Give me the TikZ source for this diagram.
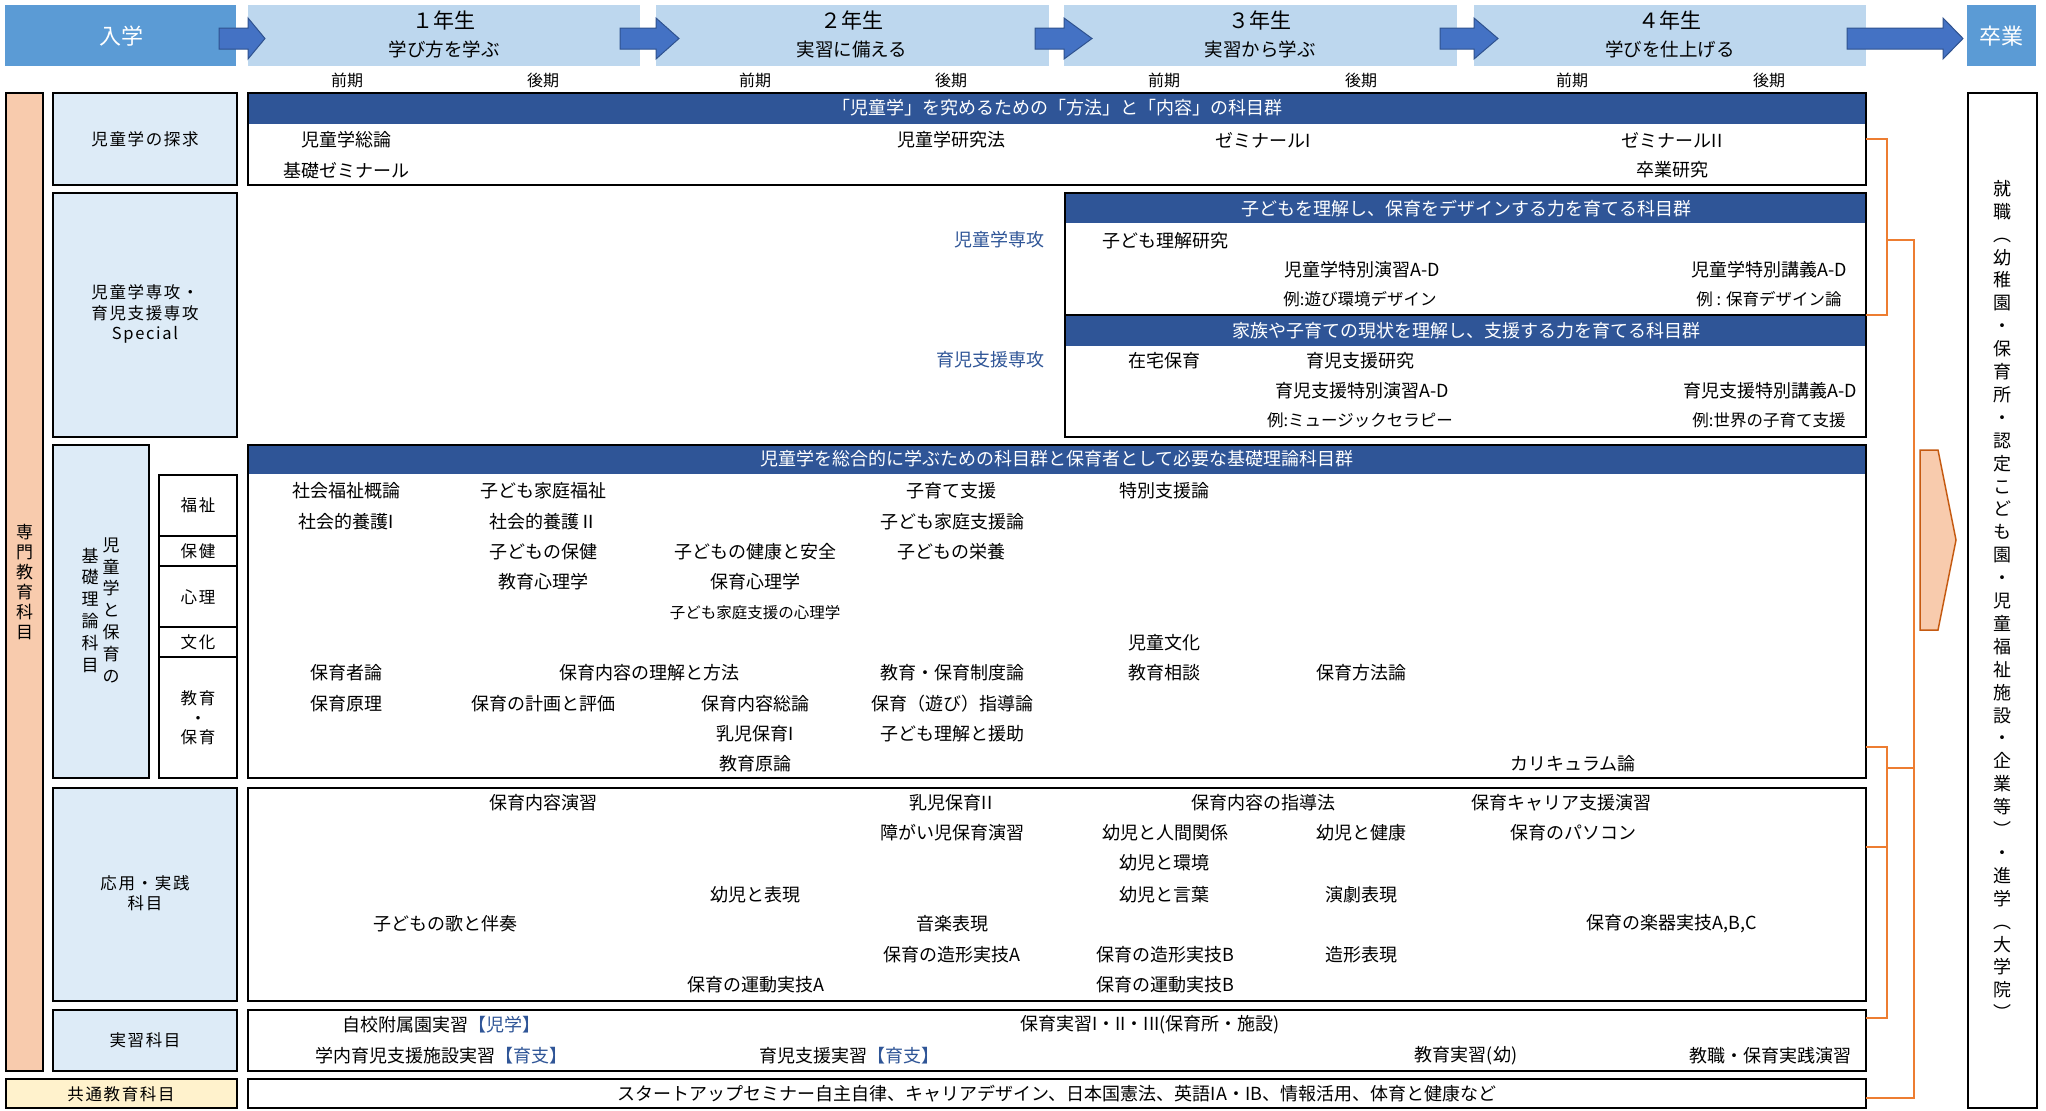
\documentclass[tikz,border=0pt]{standalone}
\usepackage{fontspec}
\setmainfont{Noto Sans CJK JP}
\newfontfamily\lsfont{Noto Sans CJK JP}[LetterSpace=10]
\definecolor{hdr}{HTML}{2F5597}
\definecolor{yearbg}{HTML}{BDD7EE}
\definecolor{midblue}{HTML}{5B9BD5}
\definecolor{arrowblue}{HTML}{4472C4}
\definecolor{arrowedge}{HTML}{2F528F}
\definecolor{leftbg}{HTML}{DDEBF7}
\definecolor{peach}{HTML}{F8CBAD}
\definecolor{peachedge}{HTML}{C55A11}
\definecolor{cream}{HTML}{FFF2CC}
\definecolor{orangeline}{HTML}{ED7D31}
\definecolor{bluetext}{HTML}{2F5597}
\newcommand\mkbox[6]{\node[#6, anchor=north west, minimum width={(#4-#2)*1bp}, minimum height={(#5-#3)*1bp}] (#1) at (#2,#3) {};}
\newcommand\barrow[3]{\filldraw[blockarrow] (#1,28) -- (#2,28) -- (#2,18) -- (#3,38.5) -- (#2,59) -- (#2,49) -- (#1,49) -- cycle;}
\newcommand\T[4]{\node[lbl] (#1) at (#2,#3) {#4};}
\newcommand\Ts[4]{\node[sml] (#1) at (#2,#3) {#4};}
\tikzset{
  lbl/.style={font=\fontsize{18bp}{21bp}\selectfont},
  sml/.style={font=\fontsize{16.5bp}{20bp}\selectfont},
  hdrtxt/.style={font=\fontsize{18bp}{21bp}\selectfont, text=white},
  cbox/.style={draw=black, line width=2.6bp},
  lbox/.style={draw=black, line width=2.4bp, fill=leftbg},
  sbox/.style={draw=black, line width=2bp, fill=white},
  ybox/.style={fill=yearbg},
  ebox/.style={fill=midblue},
  oline/.style={draw=orangeline, line width=2.6bp},
  blockarrow/.style={fill=arrowblue, draw=arrowedge, line width=1bp},
  leftlbl/.style={font=\lsfont\fontsize{16.5bp}{20bp}\selectfont, align=center},
  yeartitle/.style={font=\fontsize{21bp}{24bp}\selectfont},
  yearsub/.style={font=\fontsize{18.5bp}{22bp}\selectfont},
  term/.style={font=\fontsize{16bp}{19bp}\selectfont},
}
\begin{document}
\begin{tikzpicture}[x=1bp,y=-1bp, every node/.style={inner sep=0pt,outer sep=0pt}]
\useasboundingbox[fill=white] (0,0) rectangle (2046,1110);

% ---------- top row ----------
\mkbox{ent}{5}{5}{236}{66}{ebox}
\mkbox{yr1}{248}{5}{640}{66}{ybox}
\mkbox{yr2}{656}{5}{1049}{66}{ybox}
\mkbox{yr3}{1064}{5}{1457}{66}{ybox}
\mkbox{yr4}{1474}{5}{1866}{66}{ybox}
\mkbox{grad}{1967}{5}{2036}{66}{ebox}
\barrow{219}{248}{265}
\barrow{620}{656}{679}
\barrow{1035}{1064}{1092}
\barrow{1440}{1474}{1498}
\barrow{1847}{1943}{1963}
\node[font=\fontsize{22bp}{24bp}\selectfont, text=white] (entT) at (121,36) {入学};
\node[font=\fontsize{22bp}{24bp}\selectfont, text=white] (gradT) at (2001,36) {卒業};
\node[yeartitle] (y1a) at (444,20) {１年生};
\node[yearsub] (y1b) at (444,49) {学び方を学ぶ};
\node[yeartitle] (y2a) at (852,20) {２年生};
\node[yearsub] (y2b) at (852,49) {実習に備える};
\node[yeartitle] (y3a) at (1260,20) {３年生};
\node[yearsub] (y3b) at (1260,49) {実習から学ぶ};
\node[yeartitle] (y4a) at (1670,20) {４年生};
\node[yearsub] (y4b) at (1670,49) {学びを仕上げる};
\node[term] (t1) at (347,80) {前期};
\node[term] (t2) at (543,80) {後期};
\node[term] (t3) at (755,80) {前期};
\node[term] (t4) at (951,80) {後期};
\node[term] (t5) at (1164,80) {前期};
\node[term] (t6) at (1361,80) {後期};
\node[term] (t7) at (1572,80) {前期};
\node[term] (t8) at (1769,80) {後期};

% ---------- left column ----------
\mkbox{senmon}{6}{93}{43}{1071}{lbox, fill=peach, line width=2bp}
\node[font=\fontsize{17bp}{20bp}\selectfont, align=center] (senmonT) at (24.5,582) {専\\門\\教\\育\\科\\目};
\mkbox{L1}{53}{93}{237}{185}{lbox}
\node[leftlbl] (L1T) at (145,139) {児童学の探求};
\mkbox{L2}{53}{193}{237}{437}{lbox}
\node[leftlbl, font=\lsfont\fontsize{16.5bp}{20.5bp}\selectfont] (L2T) at (145,314) {児童学専攻・\\育児支援専攻\\Special};
\mkbox{L3}{53}{445}{149}{778}{lbox}
\node[font=\fontsize{17bp}{21.8bp}\selectfont, align=center] (L3a) at (111,610) {児\\童\\学\\と\\保\\育\\の};
\node[font=\fontsize{17bp}{21.8bp}\selectfont, align=center] (L3b) at (90,610) {基\\礎\\理\\論\\科\\目};
\mkbox{S1}{159}{475}{237}{536}{sbox}
\mkbox{S2}{159}{536}{237}{566}{sbox}
\mkbox{S3}{159}{566}{237}{627}{sbox}
\mkbox{S4}{159}{627}{237}{657}{sbox}
\mkbox{S5}{159}{657}{237}{778}{sbox}
\node[leftlbl] (S1T) at (198,505) {福祉};
\node[leftlbl] (S2T) at (198,551) {保健};
\node[leftlbl] (S3T) at (198,597) {心理};
\node[leftlbl] (S4T) at (198,642) {文化};
\node[leftlbl, font=\lsfont\fontsize{16.5bp}{19.5bp}\selectfont] (S5T) at (198,718) {教育\\・\\保育};
\mkbox{L4}{53}{788}{237}{1001}{lbox}
\node[leftlbl] (L4T) at (145,893) {応用・実践\\科目};
\mkbox{L5}{53}{1010}{237}{1071}{lbox}
\node[leftlbl] (L5T) at (145,1040) {実習科目};
\mkbox{L6}{6}{1079}{237}{1108}{lbox, fill=cream}
\node[leftlbl] (L6T) at (121,1094) {共通教育科目};

% ---------- right column ----------
\mkbox{R}{1968}{93}{2037}{1108}{draw=black, line width=2.4bp}
\node[font=\fontsize{18bp}{22.9bp}\selectfont, align=center] (RT) at (2002,600) {就\\職\\︵\\幼\\稚\\園\\・\\保\\育\\所\\・\\認\\定\\こ\\ど\\も\\園\\・\\児\\童\\福\\祉\\施\\設\\・\\企\\業\\等\\︶\\・\\進\\学\\︵\\大\\学\\院\\︶};

% ---------- box 1 ----------
\fill[hdr] (248,93) rectangle (1866,124);
\mkbox{box1}{248}{93}{1866}{185}{cbox}
\node[hdrtxt] (h1) at (1057,108) {「児童学」を究めるための「方法」と「内容」の科目群};
\T{a1}{346}{140}{児童学総論}
\T{a2}{346}{171}{基礎ゼミナール}
\T{a3}{951}{140}{児童学研究法}
\T{a4}{1263}{140}{ゼミナールI}
\T{a5}{1672}{140}{ゼミナールII}
\T{a6}{1672}{170}{卒業研究}

% ---------- specialty ----------
\fill[hdr] (1065,193) rectangle (1866,223);
\fill[hdr] (1065,315) rectangle (1866,346);
\mkbox{specA}{1065}{193}{1866}{315}{cbox}
\mkbox{specB}{1065}{315}{1866}{437}{cbox}
\node[hdrtxt] (h2) at (1466,209) {子どもを理解し、保育をデザインする力を育てる科目群};
\node[hdrtxt] (h3) at (1466,331) {家族や子育ての現状を理解し、支援する力を育てる科目群};
\node[lbl, text=bluetext, anchor=east] (m1) at (1044,240) {児童学専攻};
\node[lbl, text=bluetext, anchor=east] (m2) at (1044,360) {育児支援専攻};
\T{b1}{1165}{241}{子ども理解研究}
\T{b2}{1362}{270}{児童学特別演習A-D}
\T{b3}{1769}{270}{児童学特別講義A-D}
\Ts{b4}{1360}{299}{例:遊び環境デザイン}
\Ts{b5}{1769}{299}{例 : 保育デザイン論}
\T{b6}{1164}{361}{在宅保育}
\T{b7}{1360}{361}{育児支援研究}
\T{b8}{1362}{391}{育児支援特別演習A-D}
\T{b9}{1770}{391}{育児支援特別講義A-D}
\Ts{b10}{1360}{420}{例:ミュージックセラピー}
\Ts{b11}{1769}{420}{例:世界の子育て支援}

% ---------- box 3 ----------
\fill[hdr] (248,445) rectangle (1866,474);
\mkbox{box3}{248}{445}{1866}{778}{cbox}
\node[hdrtxt] (h4) at (1057,459) {児童学を総合的に学ぶための科目群と保育者として必要な基礎理論科目群};
\T{c1}{346}{491}{社会福祉概論}
\T{c2}{346}{522}{社会的養護I}
\T{c3}{543}{491}{子ども家庭福祉}
\T{c4}{543}{522}{社会的養護Ⅱ}
\T{c5}{543}{552}{子どもの保健}
\T{c6}{543}{582}{教育心理学}
\T{c7}{755}{552}{子どもの健康と安全}
\T{c8}{755}{582}{保育心理学}
\node[font=\fontsize{15.5bp}{18bp}\selectfont] (c9) at (755,613) {子ども家庭支援の心理学};
\T{c10}{951}{491}{子育て支援}
\T{c11}{952}{522}{子ども家庭支援論}
\T{c12}{951}{552}{子どもの栄養}
\T{c13}{1164}{491}{特別支援論}
\T{c14}{1164}{643}{児童文化}
\T{c15}{1164}{673}{教育相談}
\T{c16}{1361}{673}{保育方法論}
\T{c17}{1573}{764}{カリキュラム論}
\T{c18}{346}{673}{保育者論}
\T{c19}{346}{704}{保育原理}
\T{c20}{649}{673}{保育内容の理解と方法}
\T{c21}{543}{704}{保育の計画と評価}
\T{c22}{755}{704}{保育内容総論}
\T{c23}{755}{734}{乳児保育I}
\T{c24}{755}{764}{教育原論}
\T{c25}{952}{673}{教育・保育制度論}
\T{c26}{952}{704}{保育（遊び）指導論}
\T{c27}{952}{734}{子ども理解と援助}

% ---------- box 4 ----------
\mkbox{box4}{248}{788}{1866}{1001}{cbox}
\T{d1}{543}{803}{保育内容演習}
\T{d2}{951}{803}{乳児保育II}
\T{d3}{952}{833}{障がい児保育演習}
\T{d4}{755}{895}{幼児と表現}
\T{d5}{445}{924}{子どもの歌と伴奏}
\T{d6}{952}{924}{音楽表現}
\T{d7}{952}{955}{保育の造形実技A}
\T{d8}{756}{985}{保育の運動実技A}
\T{d9}{1263}{803}{保育内容の指導法}
\T{d10}{1561}{803}{保育キャリア支援演習}
\T{d11}{1165}{833}{幼児と人間関係}
\T{d12}{1361}{833}{幼児と健康}
\T{d13}{1573}{833}{保育のパソコン}
\T{d14}{1164}{863}{幼児と環境}
\T{d15}{1164}{895}{幼児と言葉}
\T{d16}{1361}{895}{演劇表現}
\T{d17}{1672}{924}{保育の楽器実技A,B,C}
\T{d18}{1165}{955}{保育の造形実技B}
\T{d19}{1361}{955}{造形表現}
\T{d20}{1165}{985}{保育の運動実技B}

% ---------- box 5 ----------
\mkbox{box5}{248}{1010}{1866}{1071}{cbox}
\T{e1}{441}{1025}{自校附属園実習\textcolor{bluetext}{【児学】}}
\T{e2}{441}{1056}{学内育児支援施設実習\textcolor{bluetext}{【育支】}}
\T{e3}{849}{1056}{育児支援実習\textcolor{bluetext}{【育支】}}
\T{e4}{1150}{1025}{保育実習I・II・III(保育所・施設)}
\T{e5}{1466}{1056}{教育実習(幼)}
\T{e6}{1770}{1056}{教職・保育実践演習}

% ---------- box 6 ----------
\mkbox{box6}{248}{1079}{1866}{1108}{cbox}
\T{f1}{1057}{1094}{スタートアップセミナー自主自律、キャリアデザイン、日本国憲法、英語IA・IB、情報活用、体育と健康など}

% ---------- orange connectors ----------
\coordinate (jA) at (1887,240);
\coordinate (jB) at (1887,768);
\coordinate (jM) at (1914,1098);
\coordinate (yB1) at (0,747);
\coordinate (yB2) at (0,847);
\coordinate (yB3) at (0,1018);
\draw[oline] (box1.east) -| (jA) |- (specA.south east);
\draw[oline] (jA) -- (jA -| jM) -- (jM) -- (jM -| box6.east);
\draw[oline] (box3.east |- yB1) -| (jB) |- (box5.east |- yB3);
\draw[oline] (box4.east |- yB2) -- (jB |- yB2);
\draw[oline] (jB) -- (jB -| jM);

% ---------- peach arrow ----------
\filldraw[fill=peach, draw=peachedge, line width=1.5bp] (1920,450) -- (1938,450) -- (1956,540) -- (1938,630) -- (1920,630) -- cycle;
\end{tikzpicture}
\end{document}
